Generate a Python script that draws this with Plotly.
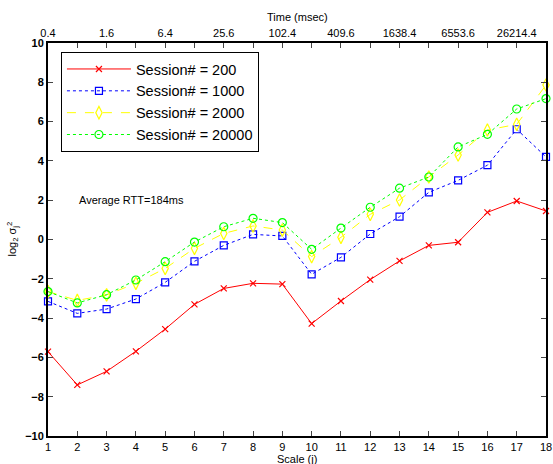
import plotly.graph_objects as go

scales = list(range(1, 19))
time_labels = ["0.4", "1.6", "6.4", "25.6", "102.4", "409.6", "1638.4", "6553.6", "26214.4"]

s200 = [-5.71, -7.40, -6.71, -5.69, -4.56, -3.30, -2.49, -2.23, -2.27, -4.28, -3.13, -2.04, -1.09, -0.30, -0.14, 1.38, 1.96, 1.45]
s1000 = [-3.15, -3.76, -3.54, -3.03, -2.18, -1.11, -0.30, 0.26, 0.18, -1.77, -0.91, 0.28, 1.16, 2.40, 3.01, 3.78, 5.61, 4.20]
s2000 = [-2.65, -3.10, -2.82, -2.23, -1.47, -0.45, 0.31, 0.69, 0.48, -0.87, 0.11, 1.28, 2.01, 3.18, 4.30, 5.57, 5.86, 7.86]
s20000 = [-2.65, -3.23, -2.81, -2.06, -1.13, -0.13, 0.65, 1.08, 0.86, -0.50, 0.58, 1.64, 2.61, 3.18, 4.71, 5.35, 6.64, 7.17]

names = ["Session# = 200", "Session# = 1000", "Session# = 2000", "Session# = 20000"]
series = [s200, s1000, s2000, s20000]
colors = ["#ff0000", "#0000ff", "#ffff00", "#00ff00"]
dashes = ["solid", "dot", "dash", "dot"]
symbols = ["x-thin-open", "square-open", "diamond-tall-open", "circle-open"]
sizes = [6, 7, 9, 8]

FONT = "Liberation Sans, Arial, Helvetica, sans-serif"

fig = go.Figure()
for n, s, c, d, sym, sz in zip(names, series, colors, dashes, symbols, sizes):
    fig.add_trace(go.Scatter(
        x=scales, y=s, name=n, mode="lines+markers", cliponaxis=False,
        line=dict(color=c, width=1, dash=d),
        marker=dict(symbol=sym, size=sz, color=c, line=dict(color=c, width=1.2)),
    ))

# invisible trace for top axis
fig.add_trace(go.Scatter(x=scales, y=s200, xaxis="x2", yaxis="y2", mode="lines",
                         line=dict(width=0), opacity=0, showlegend=False, hoverinfo="skip"))

top_text = []
for i in range(18):
    top_text.append(time_labels[i // 2] if i % 2 == 0 else "")

fig.update_layout(
    width=553, height=464,
    margin=dict(l=48, r=7, t=43, b=28, autoexpand=False),
    paper_bgcolor="white", plot_bgcolor="white",
    font=dict(family=FONT, size=11, color="black"),
    xaxis=dict(range=[1, 18], tickvals=scales, ticks="inside", ticklen=5,
               showline=True, linecolor="black", linewidth=2,
               showgrid=False, zeroline=False, automargin=False,
               tickfont=dict(size=11)),
    xaxis2=dict(range=[1, 18], tickvals=scales, ticktext=top_text, overlaying="x",
                side="top", ticks="inside", ticklen=5, showline=True, anchor="y2",
                linecolor="black", linewidth=2, showgrid=False, zeroline=False,
                automargin=False, tickfont=dict(size=11)),
    yaxis=dict(range=[-10, 10], tickvals=list(range(-10, 11, 2)), ticks="inside",
               ticklen=5, showline=True, linecolor="black", linewidth=2,
               showgrid=False, zeroline=False, automargin=False,
               tickfont=dict(size=11, weight="bold")),
    yaxis2=dict(range=[-10, 10], tickvals=list(range(-10, 11, 2)), ticks="inside",
                ticklen=5, showline=True, linecolor="black", linewidth=2,
                overlaying="y", side="right", anchor="x2", showticklabels=False,
                showgrid=False, zeroline=False, automargin=False),
    legend=dict(x=0.026, y=0.977, xanchor="left", yanchor="top",
                bgcolor="white", bordercolor="black", borderwidth=1,
                font=dict(size=14.5), itemwidth=64, tracegroupgap=0),
    annotations=[
        dict(x=2, y=2, xref="x", yref="y", text="Average RTT=184ms",
             showarrow=False, xanchor="left", yanchor="middle", font=dict(size=11)),
        dict(x=0.5, y=0, xref="paper", yref="paper", text="Scale (j)",
             showarrow=False, xanchor="center", yanchor="top", yshift=-15,
             font=dict(size=11)),
        dict(x=0.5, y=1, xref="paper", yref="paper", text="Time (msec)",
             showarrow=False, xanchor="center", yanchor="bottom", yshift=18,
             font=dict(size=11)),
        dict(x=0, y=0.5, xref="paper", yref="paper",
             text="log<sub>2</sub> σ<sub>j</sub><sup>2</sup>", textangle=-90,
             showarrow=False, xanchor="right", yanchor="middle", xshift=-26,
             font=dict(size=11)),
    ],
    showlegend=True,
)

fig.write_html("out.html", config={"displayModeBar": False},
               post_script="document.body.style.margin='0';document.body.style.overflow='hidden';")
